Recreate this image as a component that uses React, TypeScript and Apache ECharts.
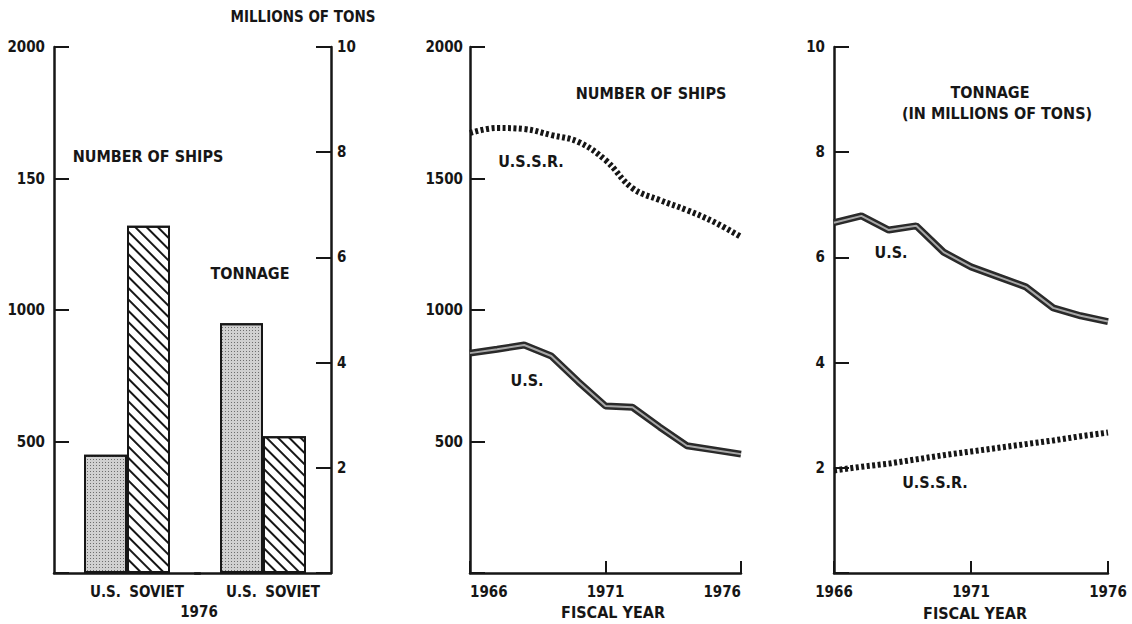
import React, { useEffect, useRef } from 'react';
import * as echarts from 'echarts';

// ---------- data ----------
const barYear = ['1976'];
const barCountries = ['U.S.', 'SOVIET'];
const ships1976 = [450, 1320]; // U.S., Soviet
const tonnage1976 = [4.75, 2.6]; // millions of tons

const years = ['1966', '1967', '1968', '1969', '1970', '1971', '1972', '1973', '1974', '1975', '1976'];
const usShips = [836, 851, 867, 825, 727, 635, 630, 555, 484, 468, 452];
const ussrShips = [1673, 1692, 1688, 1665, 1639, 1570, 1463, 1418, 1380, 1335, 1278];
const usTonnage = [6.66, 6.79, 6.52, 6.6, 6.1, 5.82, 5.63, 5.44, 5.04, 4.89, 4.78];
const ussrTonnage = [1.95, 2.02, 2.08, 2.16, 2.24, 2.31, 2.38, 2.45, 2.52, 2.6, 2.67];

const barShipTickLabels: Record<number, string> = { 0: '', 500: '500', 1000: '1000', 1500: '150', 2000: '2000' };
const shipTickLabels: Record<number, string> = { 0: '', 500: '500', 1000: '1000', 1500: '1500', 2000: '2000' };
const tonTickLabels: Record<number, string> = { 0: '', 2: '2', 4: '4', 6: '6', 8: '8', 10: '10' };

// ---------- styles ----------
const FONT = "'Liberation Sans Narrow', 'DejaVu Sans Condensed', 'Liberation Sans', sans-serif";
const INK = '#161616';
const TOP = 47;
const BOTTOM = 51;

const hatchDecal = {
  symbol: 'rect',
  symbolSize: 1,
  color: INK,
  backgroundColor: '#ffffff',
  dashArrayX: [1, 0],
  dashArrayY: [1.5, 6],
  rotation: Math.PI / 4,
};
const dotDecal = {
  symbol: 'rect',
  symbolSize: 1,
  color: '#6e6e6e',
  backgroundColor: '#d0d0d0',
  dashArrayX: [1, 2],
  dashArrayY: [1, 2],
  rotation: 0,
};

const axisLine = { show: true, lineStyle: { color: INK, width: 2.5 } };
const yTick = { show: true, inside: true, length: 15, lineStyle: { color: INK, width: 2 } };
const tickLabel = { color: INK, fontFamily: FONT, fontWeight: 'bold' as const, fontSize: 15 };

function valueAxis(gridIndex: number, max: number, interval: number, labels: Record<number, string>, position: 'left' | 'right', margin: number) {
  return {
    type: 'value',
    gridIndex,
    position,
    min: 0,
    max,
    interval,
    axisLine,
    axisTick: yTick,
    splitLine: { show: false },
    axisLabel: { ...tickLabel, margin, formatter: (v: number) => labels[v] ?? String(v) },
  };
}

function yearAxis(gridIndex: number, alignEnds: boolean) {
  return {
    type: 'category',
    gridIndex,
    data: years,
    boundaryGap: false,
    axisLine,
    axisTick: { show: true, inside: true, length: 12, interval: 4, lineStyle: { color: INK, width: 2 } },
    axisLabel: {
      ...tickLabel,
      interval: 4,
      margin: 11,
      ...(alignEnds ? { alignMinLabel: 'left', alignMaxLabel: 'right' } : {}),
    },
  };
}

function barSeries(name: string, idx: number, value: number, soviet: boolean) {
  return {
    type: 'bar',
    name,
    xAxisIndex: idx,
    yAxisIndex: idx,
    data: [value],
    barWidth: 43,
    barGap: '0%',
    itemStyle: {
      color: soviet ? '#ffffff' : '#d0d0d0',
      borderColor: INK,
      borderWidth: 2,
      decal: soviet ? hatchDecal : dotDecal,
    },
    label: {
      show: true,
      position: 'bottom',
      distance: 11,
      offset: soviet ? [8, 0] : [0, 0],
      formatter: name,
      ...tickLabel,
    },
  };
}

function txt(text: string, x: number, y: number, size = 16) {
  return {
    type: 'text',
    x,
    y,
    style: {
      text,
      fill: INK,
      font: `bold ${size}px ${FONT}`,
      textAlign: 'center',
      textVerticalAlign: 'middle',
    },
  };
}

export default function App() {
  const ref = useRef<HTMLDivElement>(null);
  useEffect(() => {
    if (!ref.current) return;
    const chart = echarts.init(ref.current, undefined, { renderer: 'svg' });
    const option = {
      animation: false,
      backgroundColor: '#ffffff',
      grid: [
        { left: 54, width: 146, top: TOP, bottom: BOTTOM },
        { left: 195, width: 136, top: TOP, bottom: BOTTOM },
        { left: 470, width: 271, top: TOP, bottom: BOTTOM },
        { left: 834, width: 274, top: TOP, bottom: BOTTOM },
      ],
      xAxis: [
        { type: 'category', gridIndex: 0, data: barYear, axisLine, axisTick: { show: false }, axisLabel: { show: false } },
        { type: 'category', gridIndex: 1, data: barYear, axisLine, axisTick: { show: false }, axisLabel: { show: false } },
        yearAxis(2, true),
        yearAxis(3, false),
      ],
      yAxis: [
        valueAxis(0, 2000, 500, barShipTickLabels, 'left', 9),
        valueAxis(1, 10, 2, tonTickLabels, 'right', 6),
        valueAxis(2, 2000, 500, shipTickLabels, 'left', 7),
        valueAxis(3, 10, 2, tonTickLabels, 'left', 9),
      ],
      series: [
        barSeries(barCountries[0], 0, ships1976[0], false),
        barSeries(barCountries[1], 0, ships1976[1], true),
        barSeries(barCountries[0], 1, tonnage1976[0], false),
        barSeries(barCountries[1], 1, tonnage1976[1], true),
        {
          type: 'line', name: 'U.S.S.R. ships', xAxisIndex: 2, yAxisIndex: 2, data: ussrShips,
          showSymbol: false, smooth: 0.4,
          lineStyle: { color: INK, width: 6, type: [3, 2.5] },
        },
        {
          type: 'line', name: 'U.S. ships', xAxisIndex: 2, yAxisIndex: 2, data: usShips,
          showSymbol: false, lineStyle: { color: '#2a2a2a', width: 7 },
        },
        {
          type: 'line', name: 'U.S. ships core', xAxisIndex: 2, yAxisIndex: 2, data: usShips,
          showSymbol: false, lineStyle: { color: '#a8a8a8', width: 2 },
        },
        {
          type: 'line', name: 'U.S.S.R. tonnage', xAxisIndex: 3, yAxisIndex: 3, data: ussrTonnage,
          showSymbol: false, lineStyle: { color: INK, width: 6, type: [3, 2.5] },
        },
        {
          type: 'line', name: 'U.S. tonnage', xAxisIndex: 3, yAxisIndex: 3, data: usTonnage,
          showSymbol: false, lineStyle: { color: '#2a2a2a', width: 7 },
        },
        {
          type: 'line', name: 'U.S. tonnage core', xAxisIndex: 3, yAxisIndex: 3, data: usTonnage,
          showSymbol: false, lineStyle: { color: '#a8a8a8', width: 2 },
        },
      ],
      graphic: [
        txt('MILLIONS OF TONS', 303, 17, 15),
        txt('NUMBER OF SHIPS', 148, 156),
        txt('TONNAGE', 250, 273),
        txt('1976', 199, 612, 15),
        txt('NUMBER OF SHIPS', 651, 93),
        txt('U.S.S.R.', 531, 161),
        txt('U.S.', 527, 380),
        txt('FISCAL YEAR', 613, 612),
        txt('TONNAGE', 990, 92),
        txt('(IN MILLIONS OF TONS)', 997, 113),
        txt('U.S.', 891, 252),
        txt('U.S.S.R.', 935, 482),
        txt('FISCAL YEAR', 975, 613),
      ],
    };
    chart.setOption(option as any);
    return () => chart.dispose();
  }, []);
  return (
    <div
      ref={ref}
      style={{ position: 'absolute', left: 0, top: 0, width: 1132, height: 624, background: '#fff' }}
    />
  );
}
